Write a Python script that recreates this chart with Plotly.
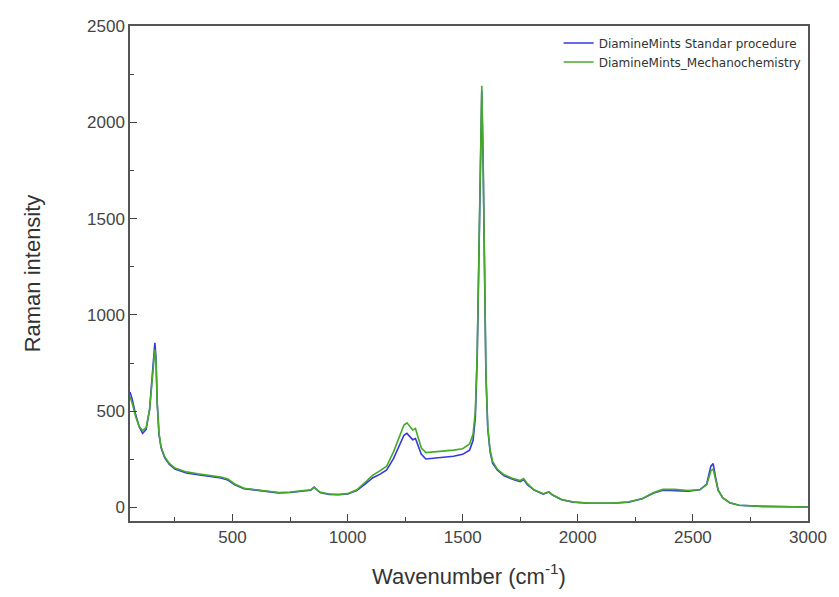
import plotly.graph_objects as go

# Wavenumber samples (cm^-1)
wavenumber = [55, 65, 80, 95, 110, 125, 140, 150, 157, 163, 168, 173, 181, 190, 205, 225, 250,
              300, 350, 400, 450, 480, 510, 550, 600, 650, 700, 750, 800, 840, 855, 865, 880,
              920, 960, 1000, 1040, 1080, 1110, 1140, 1170, 1200, 1225, 1245, 1258, 1270, 1283,
              1295, 1305, 1320, 1340, 1370, 1410, 1460, 1500, 1530, 1545, 1555, 1563, 1570, 1576,
              1583, 1589, 1595, 1601, 1609, 1619, 1630, 1650, 1680, 1720, 1750, 1765, 1780, 1810,
              1850, 1875, 1890, 1930, 1980, 2050, 2150, 2220, 2280, 2330, 2370, 2420, 2480, 2530,
              2560, 2578, 2588, 2598, 2610, 2630, 2660, 2700, 2800, 3000]

standard = [600, 560, 480, 420, 385, 405, 510, 670, 800, 855, 780, 550, 380, 310, 260, 225, 200,
            180, 170, 160, 153, 143, 118, 98, 90, 83, 76, 78, 83, 90, 106, 94, 78,
            68, 66, 70, 88, 125, 155, 172, 195, 255, 325, 375, 385, 368, 352,
            358, 328, 278, 252, 256, 260, 266, 276, 298, 348, 468, 768, 1268, 1868,
            2165, 1780, 1180, 690, 410, 290, 230, 195, 165, 145, 135, 145, 120, 90,
            70, 80, 65, 40, 28, 22, 22, 28, 45, 75, 90, 88, 85, 92,
            122, 215, 228, 160, 90, 50, 25, 12, 6, 3]

mechano = [575, 540, 470, 420, 400, 415, 505, 650, 780, 820, 760, 540, 385, 315, 265, 230, 205,
           185, 175, 165, 158, 148, 122, 100, 92, 85, 78, 80, 85, 92, 104, 96, 80,
           70, 68, 72, 92, 135, 168, 190, 215, 290, 370, 428, 440, 422, 402,
           410, 370, 310, 285, 288, 292, 298, 305, 330, 380, 500, 800, 1300, 1900,
           2190, 1800, 1200, 700, 420, 300, 240, 200, 170, 150, 140, 150, 125, 92,
           72, 82, 66, 42, 29, 23, 23, 29, 47, 78, 94, 95, 88, 92,
           118, 190, 200, 150, 88, 50, 25, 12, 6, 3]

series_names = ["DiamineMints Standar procedure", "DiamineMints_Mechanochemistry"]
x_ticks = [500, 1000, 1500, 2000, 2500, 3000]
y_ticks = [0, 500, 1000, 1500, 2000, 2500]

fig = go.Figure()
fig.add_trace(go.Scatter(x=wavenumber, y=standard, mode="lines", name=series_names[0],
                         line=dict(color="rgb(55,55,225)", width=1.6)))
fig.add_trace(go.Scatter(x=wavenumber, y=mechano, mode="lines", name=series_names[1],
                         line=dict(color="rgb(70,170,40)", width=1.6)))

axis_font = dict(family="Liberation Sans, Arial, sans-serif", size=17, color="#444")
fig.update_layout(
    width=839, height=597,
    margin=dict(l=130, r=28, t=26, b=76),
    paper_bgcolor="white", plot_bgcolor="white",
    font=dict(family="Liberation Sans, Arial, sans-serif", color="#333"),
    showlegend=True,
    legend=dict(x=0.998, y=0.995, xanchor="right", yanchor="top",
                bgcolor="rgba(0,0,0,0)",
                font=dict(family="DejaVu Sans, sans-serif", size=12, color="#333"),
                tracegroupgap=0, itemwidth=30),
    xaxis=dict(range=[55, 3000], tickvals=x_ticks, ticks="inside", ticklen=7, tickwidth=1.2,
               tickcolor="#444", showline=True, linecolor="#555", linewidth=1.5, mirror=True,
               showgrid=False, zeroline=False, tickfont=axis_font,
               minor=dict(ticks="inside", ticklen=4, dtick=250, tick0=0, tickcolor="#444", showgrid=False),
               title=dict(text="Wavenumber (cm<sup>-1</sup>)", font=dict(size=22, color="#333"), standoff=22)),
    yaxis=dict(range=[-70, 2500], tickvals=y_ticks, ticks="inside", ticklen=7, tickwidth=1.2,
               tickcolor="#444", showline=True, linecolor="#555", linewidth=1.5, mirror=True,
               showgrid=False, zeroline=False, tickfont=axis_font,
               minor=dict(ticks="inside", ticklen=4, dtick=250, tick0=0, tickcolor="#444", showgrid=False),
               title=dict(text="Raman intensity", font=dict(size=22, color="#333"), standoff=40)),
)

fig.write_html("out.html")
